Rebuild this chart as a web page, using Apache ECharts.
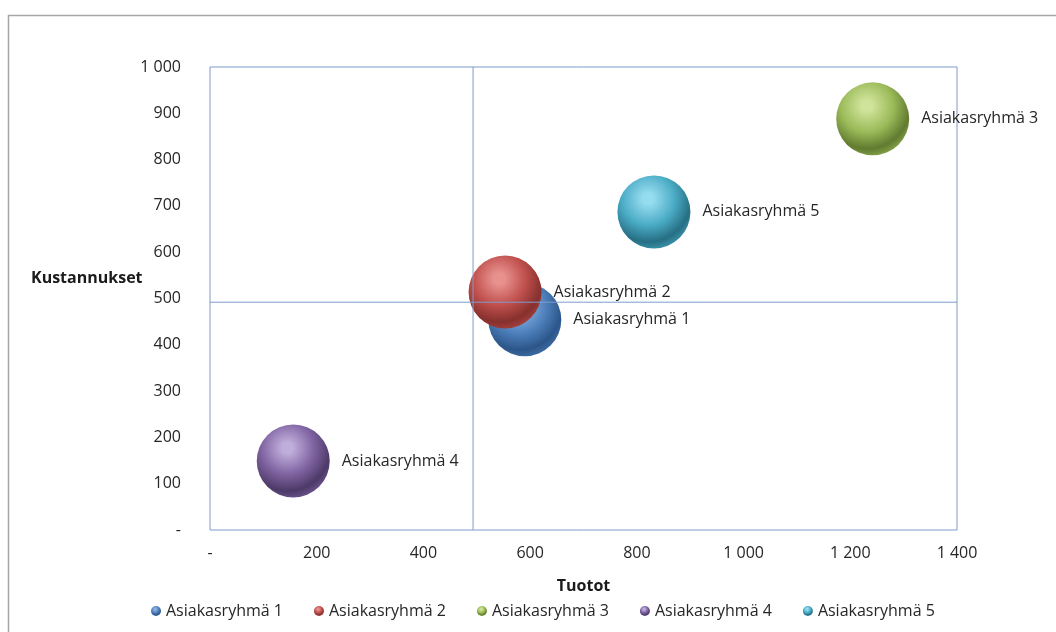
<!DOCTYPE html>
<html>
<head>
<meta charset="utf-8">
<script src="https://cdn.jsdelivr.net/npm/echarts@6/dist/echarts.min.js"></script>
<style>
  html, body { margin: 0; padding: 0; background: #ffffff; }
  #chart { width: 1056px; height: 632px; }
</style>
</head>
<body>
<div id="chart"></div>
<script>
// Customer groups: revenue (Tuotot), costs (Kustannukset), bubble size
const groups = ['Asiakasryhmä 1', 'Asiakasryhmä 2', 'Asiakasryhmä 3', 'Asiakasryhmä 4', 'Asiakasryhmä 5'];
const tuotot = [590, 553, 1242, 156, 832];
const kustannukset = [454, 514, 888, 149, 687];
const bubbleSizes = [100, 100, 100, 100, 100];

// Quadrant divider values
const tuototDivider = 493;
const kustannusDivider = 492;

// Axis extents
const xMax = 1400;
const yMax = 1000;

// Sphere shading: [highlight, base, shadow, rim]
const shades = [
  ['#8fb3e0', '#4f81bd', '#2c568a', '#3f6ea6'],
  ['#e8928f', '#c0504d', '#86302d', '#a9423f'],
  ['#cfe39a', '#9bbb59', '#617b30', '#87a64b'],
  ['#bfaedb', '#8064a2', '#4d3a68', '#6e5590'],
  ['#96dcef', '#4bacc6', '#266f84', '#3d97b0']
];

function sphere(s) {
  return new echarts.graphic.RadialGradient(0.42, 0.32, 0.72, [
    { offset: 0, color: s[0] },
    { offset: 0.1, color: s[0] },
    { offset: 0.5, color: s[1] },
    { offset: 0.82, color: s[2] },
    { offset: 1, color: s[3] }
  ]);
}

function fmtThousands(v) {
  if (v === 0) return '-';
  return String(v).replace(/\B(?=(\d{3})+(?!\d))/g, ' ');
}

const FONT = 'Open Sans';
const FS = 16;
const axisColor = '#7f9ccc';
const textColor = '#262626';

const series = groups.map(function (name, i) {
  return {
    name: name,
    type: 'scatter',
    data: [[tuotot[i], kustannukset[i], bubbleSizes[i]]],
    symbolSize: function (d) { return Math.sqrt(d[2]) * 7.3; },
    itemStyle: { color: sphere(shades[i]), opacity: 1 },
    label: {
      show: true,
      position: 'right',
      distance: 12,
      formatter: name,
      color: textColor,
      fontFamily: FONT,
      fontSize: FS
    },
    emphasis: { disabled: true }
  };
});

// Quadrant divider lines, drawn above the bubbles
function dividerSeries(points) {
  return {
    type: 'line',
    data: points,
    z: 5,
    silent: true,
    symbol: 'none',
    lineStyle: { color: axisColor, width: 1, type: 'solid' },
    emphasis: { disabled: true }
  };
}
series.push(dividerSeries([[tuototDivider, 0], [tuototDivider, yMax]]));
series.push(dividerSeries([[0, kustannusDivider], [xMax, kustannusDivider]]));

const chart = echarts.init(document.getElementById('chart'));
chart.setOption({
  backgroundColor: '#ffffff',
  animation: false,
  textStyle: { fontFamily: FONT },
  graphic: [{
    type: 'rect',
    left: 6, top: 13,
    shape: { width: 1070, height: 640 },
    style: { fill: 'none', stroke: '#a6a6a6', lineWidth: 1.5 },
    silent: true
  }, {
    type: 'text',
    left: 31, top: 270,
    style: { text: 'Kustannukset', fontFamily: FONT, fontSize: FS, fontWeight: 'bold', fill: '#1a1a1a' },
    silent: true
  }],
  grid: {
    left: 210, top: 67, right: 99, bottom: 102,
    outerBoundsMode: 'none',
    containLabel: false,
    show: true,
    borderColor: axisColor,
    borderWidth: 1,
    backgroundColor: 'transparent'
  },
  xAxis: {
    type: 'value',
    min: 0, max: xMax, interval: 200,
    name: 'Tuotot',
    nameLocation: 'middle',
    nameGap: 48,
    nameTextStyle: { fontWeight: 'bold', fontSize: FS, color: '#1a1a1a', fontFamily: FONT },
    axisLine: { show: false },
    axisTick: { show: false },
    splitLine: { show: false },
    axisLabel: { margin: 15, fontSize: FS, color: textColor, fontFamily: FONT, formatter: fmtThousands }
  },
  yAxis: {
    type: 'value',
    min: 0, max: yMax, interval: 100,
    axisLine: { show: false },
    axisTick: { show: false },
    splitLine: { show: false },
    axisLabel: { margin: 29, fontSize: FS, color: textColor, fontFamily: FONT, formatter: fmtThousands }
  },
  legend: {
    bottom: 8,
    left: 146,
    itemWidth: 10,
    itemHeight: 10,
    itemGap: 31,
    icon: 'circle',
    textStyle: { fontSize: FS, color: textColor, fontFamily: FONT },
    data: groups
  },
  series: series
});
</script>
</body>
</html>
